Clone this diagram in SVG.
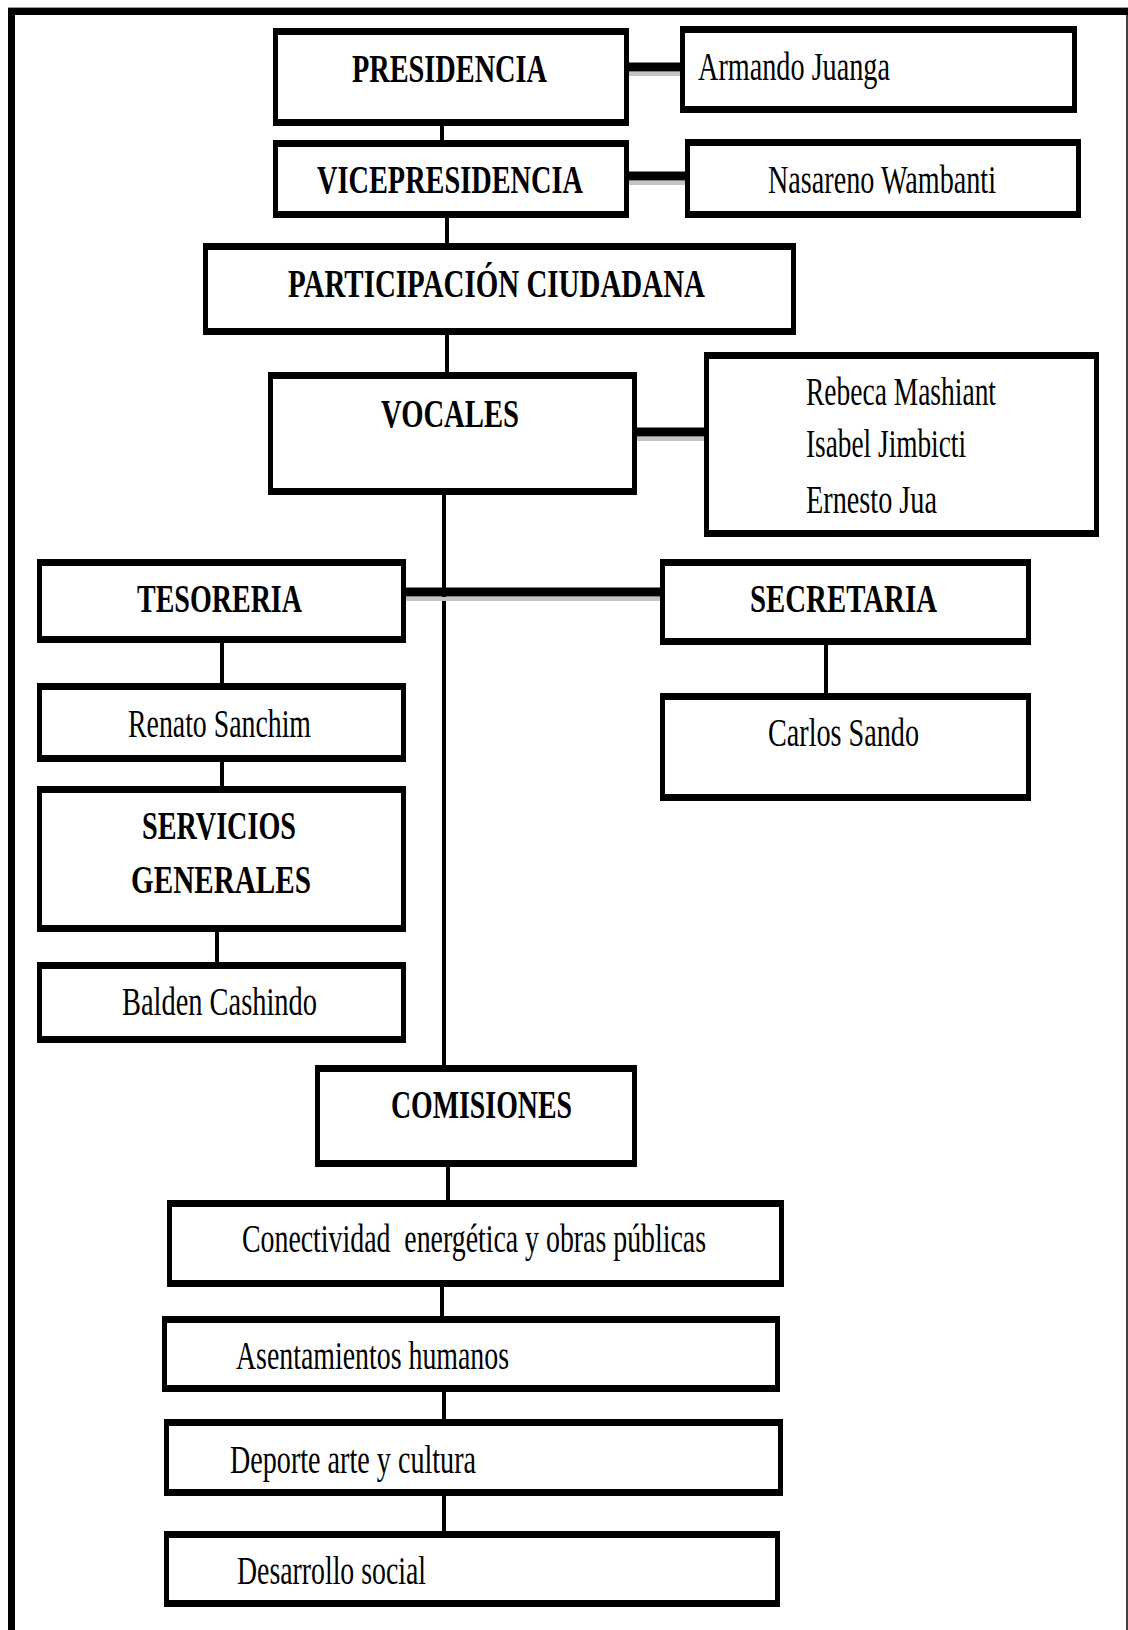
<svg xmlns="http://www.w3.org/2000/svg" width="1128" height="1630" viewBox="0 0 1128 1630">
  <style>
    .frame { fill: none; stroke: #000; }
    .box { fill: #fff; stroke: #000; stroke-width: 5; }
    .bar { fill: #000; }
    .thin { stroke: #000; stroke-width: 4; fill: none; }
    .thick { stroke: #000; stroke-width: 9; fill: none; }
    .shade { stroke: #c4c4c4; stroke-width: 4; fill: none; }
    text { font-family: "Liberation Serif", "Times New Roman", serif; font-size: 40px; fill: #000; }
    .b { font-weight: bold; }
  </style>

  <!-- page frame -->
  <g id="frame">
    <line x1="8" y1="7.5" x2="1128" y2="7.5" stroke="#9a9a9a" stroke-width="1"/>
    <line class="frame" x1="11.5" y1="8" x2="11.5" y2="1630" stroke-width="7"/>
    <line class="frame" x1="8" y1="11.5" x2="1128" y2="11.5" stroke-width="7"/>
    <line class="frame" x1="1127" y1="8" x2="1127" y2="1630" stroke-width="1.5" stroke="#8a8a8a"/>
  </g>

  <!-- connectors -->
  <g id="connectors">
    <line class="shade" x1="629" y1="74" x2="680" y2="74"/>
    <line class="thick" x1="629" y1="67" x2="680" y2="67"/>
    <line class="thin" x1="442" y1="126" x2="442" y2="140"/>
    <line class="shade" x1="629" y1="183" x2="685" y2="183"/>
    <line class="thick" x1="629" y1="176" x2="685" y2="176"/>
    <line class="thin" x1="447" y1="218" x2="447" y2="243"/>
    <line class="thin" x1="447" y1="335" x2="447" y2="372"/>
    <line class="shade" x1="637" y1="439" x2="704" y2="439"/>
    <line class="thick" x1="637" y1="432" x2="704" y2="432"/>
    <line class="thin" x1="444" y1="495" x2="444" y2="1065"/>
    <line class="shade" x1="406" y1="599" x2="660" y2="599"/>
    <line class="thick" x1="406" y1="592" x2="660" y2="592"/>
    <line class="thin" x1="222" y1="643" x2="222" y2="683"/>
    <line class="thin" x1="826" y1="645" x2="826" y2="693"/>
    <line class="thin" x1="222" y1="762" x2="222" y2="786"/>
    <line class="thin" x1="217" y1="932" x2="217" y2="962"/>
    <line class="thin" x1="448" y1="1167" x2="448" y2="1200"/>
    <line class="thin" x1="442" y1="1287" x2="442" y2="1316"/>
    <line class="thin" x1="444" y1="1392" x2="444" y2="1419"/>
    <line class="thin" x1="444" y1="1496" x2="444" y2="1531"/>
  </g>

  <g id="presidencia">
    <rect class="box" x="275.5" y="30.5" width="351" height="93"/>
    <rect class="bar" x="273" y="28" width="356" height="7"/>
    <rect class="bar" x="273" y="119" width="356" height="7"/>
    <text class="b" x="352" y="82" textLength="195" lengthAdjust="spacingAndGlyphs">PRESIDENCIA</text>
  </g>

  <g id="armando">
    <rect class="box" x="682.5" y="28.5" width="392" height="82"/>
    <rect class="bar" x="680" y="26" width="397" height="7"/>
    <rect class="bar" x="680" y="106" width="397" height="7"/>
    <text x="698" y="80" textLength="192" lengthAdjust="spacingAndGlyphs">Armando Juanga</text>
  </g>

  <g id="vicepresidencia">
    <rect class="box" x="275.5" y="142.5" width="351" height="73"/>
    <rect class="bar" x="273" y="140" width="356" height="7"/>
    <rect class="bar" x="273" y="211" width="356" height="7"/>
    <text class="b" x="317" y="193" textLength="266" lengthAdjust="spacingAndGlyphs">VICEPRESIDENCIA</text>
  </g>

  <g id="nasareno">
    <rect class="box" x="687.5" y="141.5" width="391" height="74"/>
    <rect class="bar" x="685" y="139" width="396" height="7"/>
    <rect class="bar" x="685" y="211" width="396" height="7"/>
    <text x="768" y="193" textLength="228" lengthAdjust="spacingAndGlyphs">Nasareno Wambanti</text>
  </g>

  <g id="participacion">
    <rect class="box" x="205.5" y="245.5" width="588" height="87"/>
    <rect class="bar" x="203" y="243" width="593" height="7"/>
    <rect class="bar" x="203" y="328" width="593" height="7"/>
    <text class="b" x="288" y="297" textLength="417" lengthAdjust="spacingAndGlyphs">PARTICIPACIÓN CIUDADANA</text>
  </g>

  <g id="vocales">
    <rect class="box" x="270.5" y="374.5" width="364" height="118"/>
    <rect class="bar" x="268" y="372" width="369" height="7"/>
    <rect class="bar" x="268" y="488" width="369" height="7"/>
    <text class="b" x="381" y="427" textLength="138" lengthAdjust="spacingAndGlyphs">VOCALES</text>
  </g>

  <g id="vocales-miembros">
    <rect class="box" x="706.5" y="354.5" width="390" height="180"/>
    <rect class="bar" x="704" y="352" width="395" height="7"/>
    <rect class="bar" x="704" y="530" width="395" height="7"/>
    <text x="806" y="405" textLength="190" lengthAdjust="spacingAndGlyphs">Rebeca Mashiant</text>
    <text x="806" y="457" textLength="160" lengthAdjust="spacingAndGlyphs">Isabel Jimbicti</text>
    <text x="806" y="513" textLength="131" lengthAdjust="spacingAndGlyphs">Ernesto Jua</text>
  </g>

  <g id="tesoreria">
    <rect class="box" x="39.5" y="561.5" width="364" height="79"/>
    <rect class="bar" x="37" y="559" width="369" height="7"/>
    <rect class="bar" x="37" y="636" width="369" height="7"/>
    <text class="b" x="137" y="612" textLength="165" lengthAdjust="spacingAndGlyphs">TESORERIA</text>
  </g>

  <g id="secretaria">
    <rect class="box" x="662.5" y="561.5" width="366" height="81"/>
    <rect class="bar" x="660" y="559" width="371" height="7"/>
    <rect class="bar" x="660" y="638" width="371" height="7"/>
    <text class="b" x="750" y="612" textLength="187" lengthAdjust="spacingAndGlyphs">SECRETARIA</text>
  </g>

  <g id="renato">
    <rect class="box" x="39.5" y="685.5" width="364" height="74"/>
    <rect class="bar" x="37" y="683" width="369" height="7"/>
    <rect class="bar" x="37" y="755" width="369" height="7"/>
    <text x="128" y="737" textLength="183" lengthAdjust="spacingAndGlyphs">Renato Sanchim</text>
  </g>

  <g id="servicios-generales">
    <rect class="box" x="39.5" y="788.5" width="364" height="141"/>
    <rect class="bar" x="37" y="786" width="369" height="7"/>
    <rect class="bar" x="37" y="925" width="369" height="7"/>
    <text class="b" x="142" y="839" textLength="154" lengthAdjust="spacingAndGlyphs">SERVICIOS</text>
    <text class="b" x="131" y="893" textLength="180" lengthAdjust="spacingAndGlyphs">GENERALES</text>
  </g>

  <g id="balden">
    <rect class="box" x="39.5" y="964.5" width="364" height="76"/>
    <rect class="bar" x="37" y="962" width="369" height="7"/>
    <rect class="bar" x="37" y="1036" width="369" height="7"/>
    <text x="122" y="1015" textLength="195" lengthAdjust="spacingAndGlyphs">Balden Cashindo</text>
  </g>

  <g id="carlos">
    <rect class="box" x="662.5" y="695.5" width="366" height="103"/>
    <rect class="bar" x="660" y="693" width="371" height="7"/>
    <rect class="bar" x="660" y="794" width="371" height="7"/>
    <text x="768" y="746" textLength="151" lengthAdjust="spacingAndGlyphs">Carlos Sando</text>
  </g>

  <g id="comisiones">
    <rect class="box" x="317.5" y="1067.5" width="317" height="97"/>
    <rect class="bar" x="315" y="1065" width="322" height="7"/>
    <rect class="bar" x="315" y="1160" width="322" height="7"/>
    <text class="b" x="391" y="1118" textLength="181" lengthAdjust="spacingAndGlyphs">COMISIONES</text>
  </g>

  <g id="conectividad">
    <rect class="box" x="169.5" y="1202.5" width="612" height="82"/>
    <rect class="bar" x="167" y="1200" width="617" height="7"/>
    <rect class="bar" x="167" y="1280" width="617" height="7"/>
    <text x="242" y="1252" textLength="464" lengthAdjust="spacingAndGlyphs" xml:space="preserve">Conectividad  energética y obras públicas</text>
  </g>

  <g id="asentamientos">
    <rect class="box" x="164.5" y="1318.5" width="613" height="71"/>
    <rect class="bar" x="162" y="1316" width="618" height="7"/>
    <rect class="bar" x="162" y="1385" width="618" height="7"/>
    <text x="236" y="1369" textLength="273" lengthAdjust="spacingAndGlyphs">Asentamientos humanos</text>
  </g>

  <g id="deporte">
    <rect class="box" x="166.5" y="1421.5" width="614" height="72"/>
    <rect class="bar" x="164" y="1419" width="619" height="7"/>
    <rect class="bar" x="164" y="1489" width="619" height="7"/>
    <text x="230" y="1473" textLength="246" lengthAdjust="spacingAndGlyphs">Deporte arte y cultura</text>
  </g>

  <g id="desarrollo">
    <rect class="box" x="166.5" y="1533.5" width="611" height="71"/>
    <rect class="bar" x="164" y="1531" width="616" height="7"/>
    <rect class="bar" x="164" y="1600" width="616" height="7"/>
    <text x="237" y="1584" textLength="189" lengthAdjust="spacingAndGlyphs">Desarrollo social</text>
  </g>
</svg>
